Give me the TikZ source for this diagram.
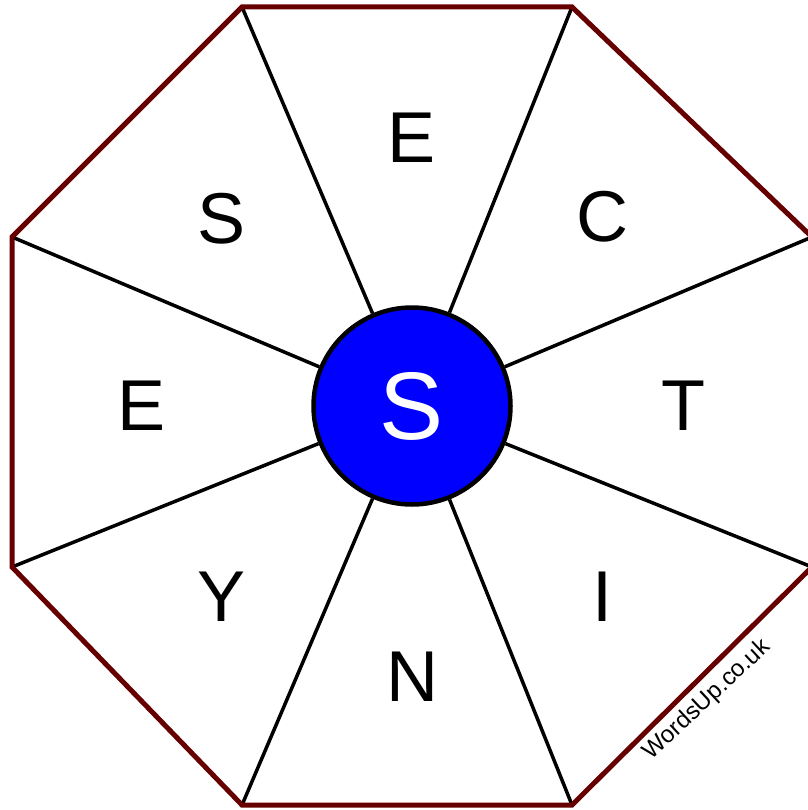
\documentclass[tikz,border=0pt]{standalone}
\usepackage{fontspec}
\setmainfont{Liberation Sans}
\usepackage{tikz}
\definecolor{rim}{RGB}{102,0,0}
\definecolor{hubblue}{RGB}{0,0,255}

\begin{document}
\begin{tikzpicture}[x=1pt,y=-1pt,
  letter/.style={inner sep=0pt,font=\fontsize{72}{80}\selectfont},
  spoke/.style={black,line width=3.5pt}]
\useasboundingbox (0,0) rectangle (807,810);
% octagon corners, clockwise from top left
\foreach \x/\y [count=\c] in {242/7,572/7,812/237,812/567,572/805,242/805,12/567,12/237}
   \coordinate (v\c) at (\x,\y);
\node[circle,draw,line width=4.5pt,fill=hubblue,minimum size=197pt,inner sep=0pt,
   text=white,font=\fontsize{96}{100}\selectfont] (hub) at (412,406){S};
\foreach \c in {1,...,8}
   \draw[spoke] (hub) -- (v\c);
\draw[rim,line width=5pt,line join=miter] (v1) -- (v2) -- (v3) -- (v4) -- (v5) -- (v6) -- (v7) -- (v8) -- cycle;
% outer letters
\foreach \t/\x/\y [count=\c] in {E/412/138,C/602/217,T/683/406,I/602/597,N/412/677,Y/222/597,E/142/406,S/222/219}
   \node[letter] (l\c) at (\x,\y){\t};
\node[rotate=43,inner sep=0pt,font=\fontsize{24}{26}\selectfont] (mark) at (707,700){WordsUp.co.uk};
\end{tikzpicture}
\end{document}
